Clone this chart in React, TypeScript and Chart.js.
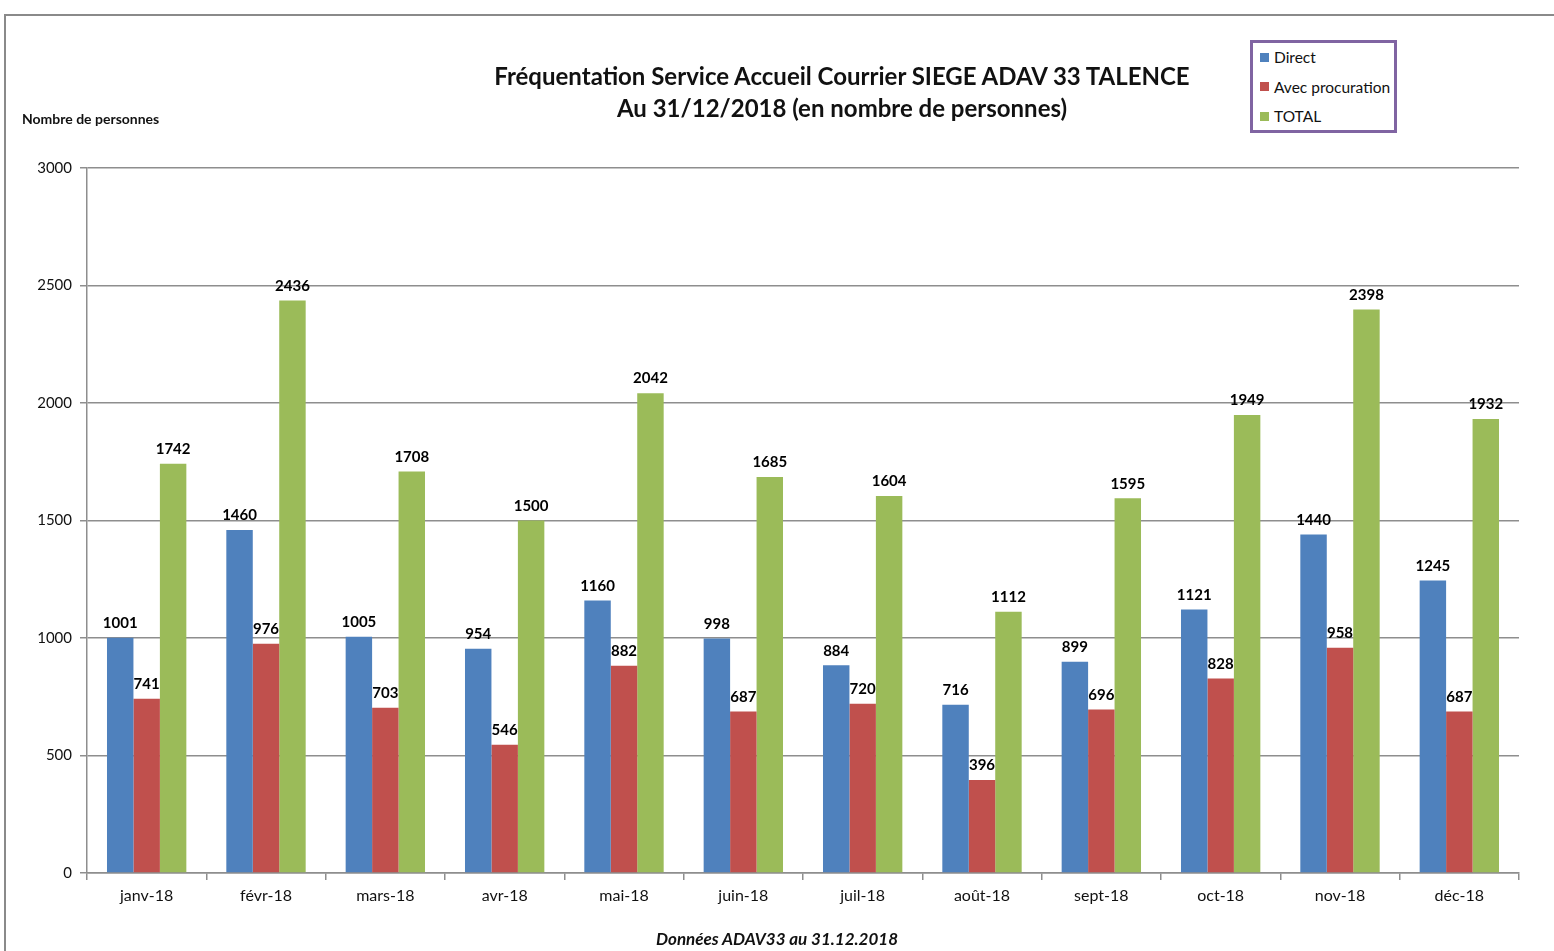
import React, { useEffect, useRef } from "react";
import { Chart, registerables } from "chart.js";

Chart.register(...registerables);

const months = ["janv-18", "févr-18", "mars-18", "avr-18", "mai-18", "juin-18", "juil-18", "août-18", "sept-18", "oct-18", "nov-18", "déc-18"];
const direct = [1001, 1460, 1005, 954, 1160, 998, 884, 716, 899, 1121, 1440, 1245];
const procuration = [741, 976, 703, 546, 882, 687, 720, 396, 696, 828, 958, 687];
const total = [1742, 2436, 1708, 1500, 2042, 1685, 1604, 1112, 1595, 1949, 2398, 1932];
const seriesNames = ["Direct", "Avec procuration", "TOTAL"];
const seriesColors = ["#4F81BD", "#C0504D", "#9BBB59"];

const FONT = "Lato, 'Open Sans', sans-serif";

const valueLabels = {
  id: "valueLabels",
  afterDatasetsDraw(chart: any) {
    const ctx = chart.ctx;
    ctx.save();
    ctx.font = `bold 15px ${FONT}`;
    ctx.fillStyle = "#000";
    ctx.textAlign = "center";
    ctx.textBaseline = "bottom";
    chart.data.datasets.forEach((ds: any, i: number) => {
      const meta = chart.getDatasetMeta(i);
      meta.data.forEach((el: any, j: number) => {
        ctx.fillText(String(ds.data[j]), el.x, el.y - 7);
      });
    });
    ctx.restore();
  },
};

export default function App() {
  const ref = useRef<HTMLCanvasElement>(null);
  useEffect(() => {
    document.body.style.margin = "0";
    const chart = new Chart(ref.current as HTMLCanvasElement, {
      type: "bar",
      data: {
        labels: months,
        datasets: [direct, procuration, total].map((d, i) => ({
          label: seriesNames[i],
          data: d,
          backgroundColor: seriesColors[i],
          borderWidth: 0,
          categoryPercentage: 0.665,
          barPercentage: 1,
        })),
      },
      options: {
        animation: false,
        responsive: false,
        maintainAspectRatio: false,
        layout: { padding: { top: 168, right: 35, left: 0, bottom: 0 } },
        plugins: {
          legend: { display: false },
          title: { display: false },
          tooltip: { enabled: false },
        },
        scales: {
          x: {
            afterFit(scale: any) {
              scale.height = 78;
            },
            grid: {
              display: true,
              drawOnChartArea: false,
              drawTicks: true,
              tickLength: 7,
              color: "#8e8e8e",
              lineWidth: 1.5,
              offset: true,
            },
            border: { display: true, color: "#8e8e8e", width: 1.5 },
            ticks: {
              color: "#111",
              font: { family: FONT, size: 16 },
              padding: 6,
              maxRotation: 0,
            },
          },
          y: {
            min: 0,
            max: 3000,
            afterFit(scale: any) {
              scale.width = 87;
            },
            ticks: {
              stepSize: 500,
              color: "#111",
              font: { family: FONT, size: 15 },
              padding: 8,
              callback: (v: any) => String(v),
            },
            grid: {
              color: "#8e8e8e",
              lineWidth: 1.5,
              tickLength: 7,
            },
            border: { display: true, color: "#8e8e8e", width: 1.5 },
          },
        },
      },
      plugins: [valueLabels],
    });
    return () => chart.destroy();
  }, []);

  const legendItems = seriesNames.map((n, i) => (
    <div key={n} style={{ position: "absolute", left: 7, top: 5 + i * 29.5, display: "flex", alignItems: "center", height: 18 }}>
      <span style={{ display: "inline-block", width: 9, height: 9, background: seriesColors[i], marginRight: 5 }} />
      <span style={{ fontSize: 15.5, color: "#111" }}>{n}</span>
    </div>
  ));

  return (
    <div style={{ position: "fixed", left: 0, top: 0, width: 1554, height: 951, background: "#fff", fontFamily: FONT, overflow: "hidden" }}>
      <div style={{ position: "absolute", left: 4, top: 14, right: -10, bottom: -10, borderTop: "2px solid #8a8a8a", borderLeft: "2px solid #8a8a8a" }} />
      <canvas ref={ref} width={1554} height={951} style={{ position: "absolute", left: 0, top: 0, width: 1554, height: 951 }} />
      <div style={{ position: "absolute", left: 442, width: 800, top: 60, textAlign: "center", fontWeight: "bold", fontSize: 24, lineHeight: "32px", color: "#111" }}>
        <div>Fréquentation Service Accueil Courrier SIEGE ADAV 33 TALENCE</div>
        <div>Au 31/12/2018 (en nombre de personnes)</div>
      </div>
      <div style={{ position: "absolute", left: 22, top: 110, fontWeight: "bold", fontSize: 14, color: "#111" }}>Nombre de personnes</div>
      <div style={{ position: "absolute", left: 1250, top: 40, width: 141, height: 87, border: "3px solid #8064A2", background: "#fff" }}>
        {legendItems}
      </div>
      <div style={{ position: "absolute", left: 377, width: 800, top: 928, textAlign: "center", fontWeight: "bold", fontStyle: "italic", fontSize: 17, color: "#111" }}>
        Données ADAV33 au 31.12.2018
      </div>
    </div>
  );
}
